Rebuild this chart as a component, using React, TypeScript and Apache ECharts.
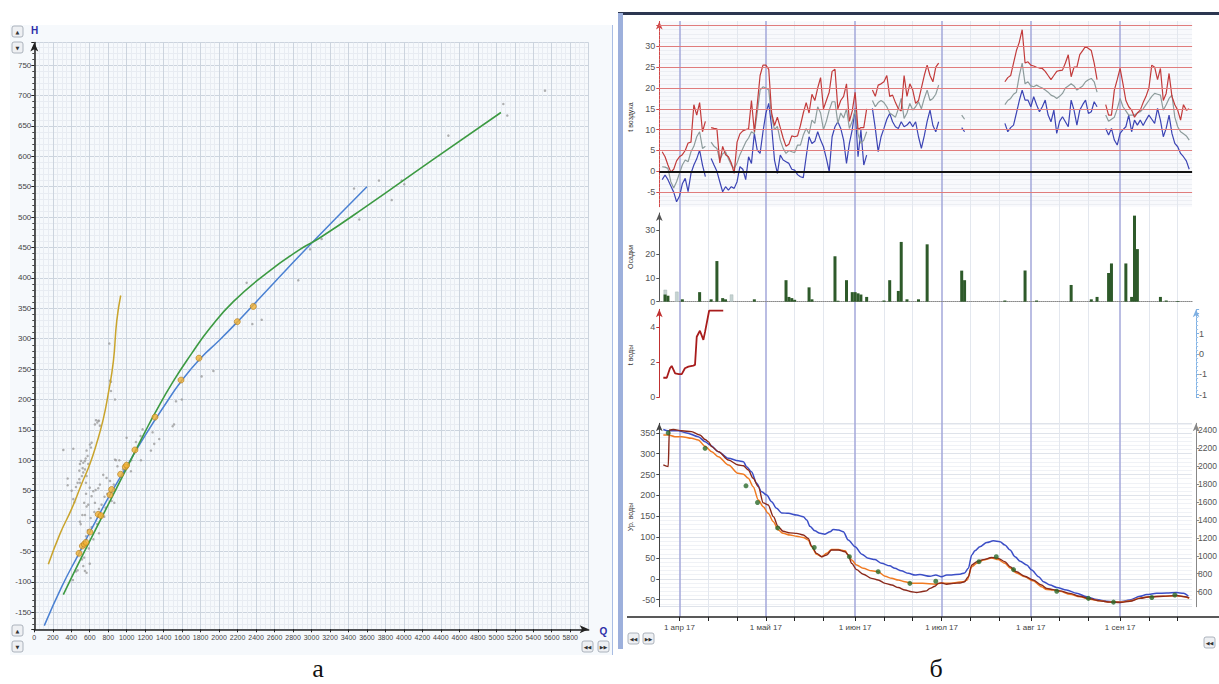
import React, { useEffect, useRef } from "react";
import * as echarts from "echarts";

/* ================= Panel «а»: H(Q) ================= */
// gray: all observations [Q, H]
const hqObserved: [number, number][] = [
  [314, 117], [422, 119], [361, 70], [361, 59], [404, 50], [422, 36], [433, 31], [451, 56], [469, 63],
  [487, 83], [494, 94], [505, 99], [523, 87], [530, 96], [548, 99], [556, 103], [566, 116], [577, 107],
  [584, 94], [602, 126], [613, 121], [620, 129], [656, 159], [682, 162], [700, 165], [710, 157], [516, 74],
  [487, 69], [494, 63], [530, 80], [548, 85], [566, 74], [559, 63], [494, -1], [502, -5], [516, -63],
  [530, -74], [548, -82], [566, -85], [451, -83], [469, -81], [418, -97], [548, 10], [566, 24], [584, 27],
  [620, 41], [638, 49], [663, 51], [692, 54], [656, 30], [710, 60], [746, 76], [782, 71], [819, 66],
  [728, 27], [757, 7], [771, 22], [837, 33], [866, 30], [873, 101], [884, 100], [999, 137], [1046, 82],
  [1154, 100], [1172, 151], [1262, 116], [1280, 146], [1298, 127], [1352, 135], [1497, 156], [1533, 197],
  [812, 292], [820, 231], [830, 229], [830, 214], [873, 200], [668, 166], [693, 165], [1512, 159],
  [1596, 200], [1811, 238], [1938, 247], [2298, 392], [2461, 331], [2360, 324], [2857, 396], [2984, 447],
  [3110, 464], [3460, 547], [3517, 496], [3730, 560], [3868, 528], [3976, 560], [4004, 554], [4481, 634],
  [5076, 686], [5119, 667], [5527, 708], [560, -25], [590, -45], [620, -10], [640, -30], [540, -60],
  [600, -70], [650, 15], [680, -5], [700, 20], [760, 40], [790, 45], [860, 60], [900, 90], [920, 100],
  [960, 85], [1050, 100], [1100, 130], [1150, 140], [700, -20], [610, 5], [580, -15], [520, 10], [540, 30],
  [560, 45], [600, 55]
];
// orange: selected points
const hqSelected: [number, number][] = [
  [484, -53], [520, -41], [541, -38], [559, -35], [602, -18], [692, 11], [721, 9], [819, 43], [837, 52],
  [934, 77], [985, 89], [999, 92], [1089, 117], [1306, 171], [1588, 232], [1782, 268], [2197, 328], [2370, 353]
];
const curveEarly: [number, number][] = [
  [152, -71], [278, -21], [404, 20], [512, 61], [602, 94], [675, 128], [747, 168], [801, 210], [856, 263],
  [892, 329], [935, 371]
];
const curveLinear: [number, number][] = [
  [108, -172], [300, -107], [484, -53], [602, -18], [800, 38], [1000, 90], [1200, 141], [1400, 188],
  [1600, 232], [1800, 268], [2000, 297], [2200, 328], [2600, 393], [3000, 457], [3600, 550]
];
const curvePower: [number, number][] = [
  [314, -121], [500, -63], [700, -3], [900, 57], [1100, 117], [1200, 147], [1300, 176], [1500, 229],
  [1700, 275], [1900, 317], [2154, 361], [2515, 408], [2876, 447], [3092, 466], [3597, 518], [4318, 595],
  [5050, 672]
];

/* ================= Panel «б»: season 2017 ================= */
const SEASON_START = "2017-03-25";
const SEASON_END = "2017-09-26";
const MONTHS_RU = ["янв", "фев", "мар", "апр", "май", "июн", "июл", "авг", "сен", "окт", "ноя", "дек"];

// air temperature, daily, segments [first date, values]
const airMax: [string, number[]][] = [
  ["2017-03-26", [4.7, 3.5, 1.5, -0.2, 0.5, 2.5, 3.5, 4, 5, 6.8, 7, 16, 13.5, 16.5, 9.5, 12]],
  ["2017-04-12", [10.5, 10.3, 10.2, 2, 6, 4, 3.5, 2, -0.5, 7, 9, 9.7, 10, 10.2, 17, 9.5, 16, 23, 25.5, 25.5,
    24.5, 14, 11, 13, 10.5, 8, 6, 6.5, 8.5, 8.3, 8.5, 11, 14, 16.5, 14, 18.5, 17, 20, 22.5, 15,
    17, 19, 24, 24.5, 15, 17, 18, 21, 12, 14.5, 19, 10, 10.5, 10.5, 15]],
  ["2017-06-07", [19.5, 18, 20.7, 21, 21.5, 23, 18, 18.3, 16.5, 15, 14.5, 23, 18, 21, 19.5, 16.3, 17, 20, 23, 25.5,
    23, 21.5, 25, 26]],
  ["2017-07-23", [21.5, 22.5, 23, 26, 29, 31, 34, 26, 26.3, 25.5, 25.3, 25, 24.8, 24.7, 24, 23, 22, 23, 24, 24.2,
    24.3, 26, 28, 22.7, 25, 25, 28, 29, 30, 29.5, 29, 26, 22]],
  ["2017-08-27", [16, 13.5, 13.5, 19.5, 22, 24.7, 21, 17, 15.5, 14.7, 13, 14, 14.7, 16.5, 18, 20, 25.5, 25, 22, 24.7,
    17, 18.7, 23.5, 18, 16, 14.7, 12.3, 16, 14.7, 15]]
];
const airMean: [string, number[]][] = [
  ["2017-03-26", [1.1, 1, 0.7, -2.5, -4, -2.5, -0.5, 1.5, 2.7, 2.3, 4.7, 6, 8.3, 9.5, 5.5, 6]],
  ["2017-04-12", [7, 6, 5.5, 2.7, 4.2, 4.7, 3, 1.5, 0.7, 2, 4, 5.5, 7, 8, 9.5, 9, 14, 19.5, 20.3, 20,
    19.5, 13, 10, 10.8, 7.5, 5.5, 4.3, 5, 4.7, 4.5, 6.3, 6.3, 8.7, 10.3, 9, 12.3, 11.5, 15.5, 14, 10,
    12, 14.7, 16.7, 16.7, 11.5, 14, 12.8, 15, 10.3, 12, 14.7, 9, 6.7, 7.5, 9.5]],
  ["2017-06-07", [17, 15.5, 16.5, 17, 16.5, 15.5, 14, 13.5, 13, 15, 17.5, 12.7, 14, 16.3, 14.7, 15.5, 16.7, 15, 17.5, 19.5,
    17, 17.5, 18.5, 20.7]],
  ["2017-07-08", [13.5, 12.5]],
  ["2017-07-23", [16, 17, 17.5, 18.5, 19, 23, 26, 21, 21.5, 20.5, 20.3, 20.7, 20.3, 20, 19.5, 19, 18.3, 18, 17.5, 18,
    18.7, 20, 20.5, 21, 20.5, 19.5, 20, 20.5, 21.5, 22, 22.3, 21.5, 19]],
  ["2017-08-27", [13.5, 12, 12.5, 13, 15, 17.5, 15.5, 14.5, 13.5, 13.5, 13.5, 14, 14.3, 15, 16, 17, 18, 18.7, 18.5, 18.3,
    14.7, 16, 17.5, 18.3, 13, 10.7, 9.5, 9, 8.5, 7.5]]
];
const airMin: [string, number[]][] = [
  ["2017-03-26", [-2, -0.9, -2, -3.5, -5, -7.3, -6, -3, -1.7, -4.9, -0.5, 1.5, 3, 5.1, 1.5, -1.3]],
  ["2017-04-12", [3.1, 1.5, 0, -2.5, -4.9, -3.7, -4.5, -3.7, -4.1, -2.5, 1.1, 0.5, -2, 3.5, 1.9, 9.1, 5.1, 4.3, 9.5, 13.9,
    16.3, 10.7, 2.7, -0.5, 3.9, 2.7, 2.3, 1.9, 0.5, 0.3, -0.8, -1.3, -1.5, 3.5, 8.3, 6.7, 7.2, 9.5, 7.5, 5.9,
    3.1, -0.1, 8.3, 10.7, 11.9, 10.3, 7.5, 1.9, 6.7, 10, 15.1, 3.5, 9.9, 1.5, 3.9]],
  ["2017-06-07", [15.1, 10.3, 4.7, 8.3, 10.3, 12.5, 13.9, 11.9, 10.7, 10.3, 11.9, 10.7, 11.1, 11.9, 10.7, 11.9, 8.3, 5.5, 8.5, 12,
    14.7, 11, 9.5, 11.9]],
  ["2017-07-08", [10.5, 9.5]],
  ["2017-07-23", [11.5, 9.5, 10.5, 11.1, 14, 17, 19.5, 17.1, 17.1, 15.5, 17.9, 16, 14.3, 15.5, 17.1, 13.5, 11.9, 14.7, 9.1, 12,
    13.1, 11.9, 10.7, 17.1, 14.7, 11.1, 14.7, 16, 17.1, 13.9, 14.3, 16.7, 15.5]],
  ["2017-08-27", [10.3, 8.7, 10.3, 7.5, 6.3, 9.1, 10, 10.7, 13.5, 9.5, 12.3, 11.1, 12.3, 11, 12.3, 13.5, 12.5, 11.5, 15.1, 12.3,
    8.3, 10.3, 13.5, 9.1, 6.7, 5.9, 4.3, 3.5, 2.5, 0.5]]
];

// precipitation, mm
const precipRain: [string, number][] = [
  ["2017-03-27", 3], ["2017-03-28", 2.5], ["2017-04-02", 1], ["2017-04-08", 4], ["2017-04-12", 1],
  ["2017-04-14", 17], ["2017-04-16", 1.5], ["2017-04-17", 1], ["2017-04-27", 1], ["2017-05-08", 9],
  ["2017-05-09", 2], ["2017-05-10", 1.5], ["2017-05-11", 0.8], ["2017-05-16", 6], ["2017-05-17", 1],
  ["2017-05-25", 19], ["2017-05-26", 0.4], ["2017-05-29", 9], ["2017-05-31", 4], ["2017-06-01", 4],
  ["2017-06-02", 3.5], ["2017-06-03", 3], ["2017-06-05", 2], ["2017-06-11", 0.5], ["2017-06-13", 9],
  ["2017-06-16", 4.5], ["2017-06-17", 25], ["2017-06-19", 1], ["2017-06-23", 1], ["2017-06-26", 24],
  ["2017-07-08", 13], ["2017-07-09", 9], ["2017-07-23", 0.5], ["2017-07-30", 13], ["2017-08-03", 0.5],
  ["2017-08-15", 7], ["2017-08-22", 1], ["2017-08-24", 2], ["2017-08-28", 12], ["2017-08-29", 16],
  ["2017-09-03", 16], ["2017-09-05", 2], ["2017-09-06", 36], ["2017-09-07", 22], ["2017-09-15", 2],
  ["2017-09-17", 0.5], ["2017-09-21", 0.3]
];
const precipSnow: [string, number][] = [["2017-03-27", 5], ["2017-03-31", 4.2], ["2017-04-19", 3]];

// water temperature [day since 25 Mar, °C]
const waterTemp: [number, number][] = [
  [1.4, 1.11], [2.6, 1.11], [3.7, 1.65], [4.3, 1.78], [5.5, 1.36], [6.8, 1.32], [7.8, 1.32], [8.9, 1.65],
  [10.1, 1.74], [11.8, 1.8], [12.4, 1.84], [13, 3.44], [14.1, 3.78], [15.3, 3.26], [15.9, 3.73], [17.3, 4.92], [22.2, 4.92]
];

// water level [day since 25 Mar, cm]
const levelBlue: [number, number][] = [
  [1.4, 358], [3, 355], [6.6, 355], [9.5, 350], [13.5, 341], [15.9, 329], [17.6, 321], [20.5, 305], [24, 289],
  [27.4, 283], [29.2, 281], [30.3, 269], [32, 257], [33.8, 229], [35.5, 209], [37.3, 201], [39, 185], [40.7, 169],
  [42.5, 158], [44.8, 157], [47.7, 153], [50, 149], [51.2, 141], [52.3, 126], [54, 115], [55.8, 109], [57.5, 107],
  [59.3, 113], [60.4, 118], [62.2, 117], [63.9, 113], [65.6, 93], [68, 77], [70.3, 59], [72.6, 49], [74.9, 46],
  [77.2, 37], [80, 31], [81.8, 25], [84, 19], [86.5, 13], [88.8, 9], [90.5, 10], [94, 6], [96, 9], [98, 5],
  [99.8, 9], [101.5, 9], [104.4, 11], [106, 14], [107.3, 25], [108.5, 57], [109.6, 67], [111.3, 77], [113.7, 87],
  [116, 91], [118.3, 89], [120, 81], [121.8, 69], [123.5, 53], [125.3, 42], [127.6, 33], [129.3, 21], [131.7, 5],
  [133.4, -7], [135.7, -15], [138, -21], [141.4, -27], [144.9, -35], [148.4, -43], [151.9, -50], [155.3, -54],
  [157.6, -55], [160, -55], [163.4, -51], [166.9, -42], [169.2, -38], [172.7, -35], [176.2, -34], [179.6, -33],
  [182, -35], [183.7, -42]
];
const levelBrown: [number, number][] = [
  [1.4, 273], [3.1, 269], [3.5, 357], [4.9, 358], [7.8, 355], [11.2, 353], [14.1, 345], [15.9, 334], [17, 329],
  [18.2, 317], [20.5, 305], [24, 285], [27.4, 273], [29.2, 271], [30.9, 261], [32.6, 241], [34.4, 221], [36.1, 182],
  [37.8, 177], [39.6, 149], [41.3, 125], [43, 114], [45.4, 110], [47.7, 109], [50, 105], [51.7, 97], [52.9, 78],
  [54.6, 61], [56.4, 53], [58.1, 57], [59.8, 69], [62.2, 69], [64.5, 65], [65.6, 57], [66.8, 37], [68.5, 22],
  [70.8, 11], [73.7, 1], [76, -3], [78.4, -11], [80.7, -15], [83, -21], [85.3, -27], [87.6, -31], [89.4, -33],
  [91, -31], [92.8, -29], [94, -23], [95.7, -18], [96.9, -11], [98, -10], [99.8, -13], [102.1, -11], [104.4, -10],
  [106, -7], [107.3, 5], [108.5, 33], [110.3, 41], [112.5, 46], [115.4, 51], [117.7, 49], [120, 41], [121.8, 29],
  [124, 17], [126.9, 6], [129.8, -3], [132.7, -15], [134.5, -23], [136.8, -26], [139.1, -29], [142.6, -35],
  [146, -42], [149.5, -48], [153, -53], [156.5, -56], [160, -57], [163.4, -54], [166.9, -47], [170.4, -43],
  [175, -42], [179.6, -40], [182.5, -43], [184, -46]
];
const levelOrange: [number, number][] = [
  [1.4, 345], [3.1, 345], [5.4, 341], [7.8, 341], [11.2, 337], [13.5, 333], [15.9, 318], [18.2, 305], [20.5, 293],
  [24, 273], [27.4, 253], [29.2, 251], [30.9, 241], [32.6, 221], [34.4, 189], [36.1, 173], [37.8, 157], [39.6, 137],
  [41.3, 117], [43, 109], [45.4, 105], [47.7, 102], [50, 99], [51.7, 93], [52.9, 77], [54.6, 59], [56.4, 53],
  [58.1, 61], [59.8, 70], [62.2, 70], [64.5, 67], [65.6, 57], [66.8, 45], [68.5, 33], [70.8, 25], [73.7, 19],
  [76, 17], [78.4, 6], [80.7, 1], [83, -3], [85.3, -7], [87.6, -11], [91.4, -11], [96, -13], [98, -10],
  [100.9, -11], [103.2, -9], [105.5, -7], [106.9, -3], [108.5, 29], [110.3, 37], [112.5, 45], [115.4, 50],
  [117.7, 46], [120, 37], [121.8, 26], [124, 14], [126.9, 5], [129.8, -5], [132.7, -19], [134.5, -26],
  [136.8, -27], [139.1, -30], [142.6, -37], [146, -43], [149.5, -49], [153, -53], [156.5, -56], [160, -56],
  [163.4, -53], [166.9, -46], [170.4, -43], [175, -42], [179.6, -41], [182.5, -43], [184, -47]
];
const levelObserved: [number, number][] = [
  [3.1, 350], [15.9, 313], [30.1, 223], [34.1, 183], [41.1, 122], [53.8, 75], [66, 53], [76, 17], [87, -11],
  [96, -6], [111, 41], [117, 53], [123, 22], [138, -30], [149, -47], [157.7, -56], [171, -45], [179, -39]
];

/* ================= helpers ================= */
const DAY = 86400000;
const parseUTC = (s: string) => {
  const [y, m, d] = s.split("-").map(Number);
  return Date.UTC(y, m - 1, d);
};
const T0 = parseUTC(SEASON_START);
const dayOf = (s: string) => Math.round((parseUTC(s) - T0) / DAY);
const NDAYS = dayOf(SEASON_END);
const seasonDates = Array.from({ length: NDAYS + 1 }, (_, i) => new Date(T0 + i * DAY).toISOString().slice(0, 10));
const dailyLine = (segs: [string, number[]][]) => {
  const out: (number | null)[] = new Array(NDAYS + 1).fill(null);
  segs.forEach(([s, vals]) => {
    const s0 = dayOf(s);
    vals.forEach((v, i) => (out[s0 + i] = v));
  });
  return out.map((v, i) => [i, v]);
};
const dayPairs = (list: [string, number][]) => list.map(([s, v]) => [dayOf(s), v]);
const dom = (v: string) => Number(v.slice(8, 10));
const plain = (v: number) => String(Math.round(v * 100) / 100);

/* ================= layout ================= */
const RX = 659.3;
const RW = 532.8;
const FONT = "Liberation Sans";

const hiddenX = (gridIndex: number) => ({
  type: "value", gridIndex, min: 0, max: NDAYS, show: false
});

function btn(x: number, y: number, glyph: string) {
  return {
    type: "group", x, y, z: 50,
    children: [
      { type: "rect", shape: { x: 0, y: 0, width: 11, height: 11, r: 2 }, style: { fill: "#eef0f3", stroke: "#9aa2ad", lineWidth: 0.8 } },
      { type: "text", style: { text: glyph, x: 5.5, y: 6, align: "center", verticalAlign: "middle", fontSize: 5, fill: "#333", fontFamily: "DejaVu Sans" } }
    ]
  };
}
function vtext(x: number, y: number, text: string) {
  return {
    type: "text", x, y, rotation: Math.PI / 2, z: 50,
    style: { text, align: "center", verticalAlign: "middle", fontSize: 7, fill: "#333", fontFamily: FONT }
  };
}

export default function App() {
  const ref = useRef<HTMLDivElement>(null);
  useEffect(() => {
    if (!ref.current) return;
    const chart = echarts.init(ref.current, undefined, { renderer: "svg" });
    const gridBase = { containLabel: false, outerBoundsMode: "none" };
    const axLabel = { fontSize: 9, color: "#555", fontFamily: FONT, margin: 4, formatter: plain };

    const redLines = [-5, 5, 10, 15, 20, 25, 30, 35].map((v) => ({ yAxis: v }));

    const option: any = {
      animation: false,
      backgroundColor: "#ffffff",
      textStyle: { fontFamily: FONT },
      grid: [
        { ...gridBase, left: 34.3, top: 42.6, width: 554.4, height: 586.7 },
        { ...gridBase, left: RX, top: 21.4, width: RW, height: 185.3, show: true, backgroundColor: "#f8f9fc", borderWidth: 0 },
        { ...gridBase, left: RX, top: 213, width: RW, height: 88.7 },
        { ...gridBase, left: RX, top: 309.3, width: RW, height: 88 },
        { ...gridBase, left: RX, top: 423.3, width: RW, height: 183.4 },
        { ...gridBase, left: RX, top: 21, width: RW, height: 596 }
      ],
      xAxis: [
        {
          type: "value", gridIndex: 0, min: 0, max: 6000, interval: 200,
          axisLine: { onZero: false, lineStyle: { color: "#222", width: 1.5 }, symbol: ["none", "arrow"], symbolSize: [6, 9] },
          axisTick: { show: true, length: 3, lineStyle: { color: "#222" } },
          axisLabel: { fontSize: 7, color: "#444", margin: 5, showMaxLabel: false, fontFamily: FONT, formatter: plain },
          splitLine: { show: true, lineStyle: { color: "#ccd4de", width: 1 } },
          minorTick: { show: false, splitNumber: 4 },
          minorSplitLine: { show: true, lineStyle: { color: "#e8ecf2", width: 1 } }
        },
        hiddenX(1),
        {
          type: "value", gridIndex: 2, min: 0, max: NDAYS,
          axisLine: { show: true, onZero: false, lineStyle: { color: "#8a8a8a", type: "dotted", width: 1 } },
          axisTick: { show: false }, axisLabel: { show: false }, splitLine: { show: false }
        },
        hiddenX(3),
        hiddenX(4),
        {
          type: "category", gridIndex: 5, data: seasonDates, boundaryGap: false, position: "bottom",
          axisLine: { show: false },
          axisTick: { show: true, length: 4, interval: (i: number, v: string) => [1, 11, 21].includes(dom(v)), lineStyle: { color: "#222" } },
          axisLabel: {
            interval: (i: number, v: string) => dom(v) === 1, fontSize: 8, color: "#444", margin: 6, fontFamily: FONT,
            formatter: (v: string) => `${dom(v)} ${MONTHS_RU[Number(v.slice(5, 7)) - 1]} ${v.slice(2, 4)}`
          },
          splitLine: { show: true, interval: (i: number, v: string) => dom(v) === 1, lineStyle: { color: "#a3a7da", width: 1.5 } }
        },
        {
          type: "category", gridIndex: 5, data: seasonDates, boundaryGap: false, position: "top",
          axisLine: { show: false }, axisTick: { show: false }, axisLabel: { show: false },
          splitLine: { show: true, interval: (i: number, v: string) => dom(v) === 11 || dom(v) === 21, lineStyle: { color: "#e3e7ee", width: 1 } }
        }
      ],
      yAxis: [
        {
          type: "value", gridIndex: 0, min: -178, max: 787, splitNumber: 19,
          axisLine: { onZero: false, lineStyle: { color: "#222", width: 1.5 }, symbol: ["none", "arrow"], symbolSize: [6, 9] },
          axisTick: { show: true, length: 3, lineStyle: { color: "#222" } },
          minorTick: { show: true, splitNumber: 5, length: 2, lineStyle: { color: "#444" } },
          axisLabel: { fontSize: 8, color: "#444", margin: 3, showMinLabel: false, showMaxLabel: false, fontFamily: FONT, formatter: plain },
          splitLine: { show: true, lineStyle: { color: "#ccd4de", width: 1 } },
          minorSplitLine: { show: true, lineStyle: { color: "#e8ecf2", width: 1 } }
        },
        {
          type: "value", gridIndex: 1, min: -8.5, max: 36, splitNumber: 9,
          axisLine: { onZero: false, lineStyle: { color: "#d04848", width: 1, type: [3, 1] }, symbol: ["none", "arrow"], symbolSize: [5, 8] },
          axisTick: { show: true, length: 3, lineStyle: { color: "#d04848" } },
          axisLabel: { ...axLabel, showMinLabel: false, showMaxLabel: false, formatter: (v: number) => (v > 32 ? "" : plain(v)) },
          splitLine: { show: false },
          minorSplitLine: { show: true, lineStyle: { color: "#eceef3" } }
        },
        {
          type: "value", gridIndex: 2, min: 0, max: 37.1, splitNumber: 4,
          axisLine: { onZero: false, lineStyle: { color: "#555", width: 1 }, symbol: ["none", "arrow"], symbolSize: [5, 8] },
          axisTick: { show: true, length: 3, lineStyle: { color: "#555" } },
          axisLabel: { ...axLabel, showMaxLabel: false },
          splitLine: { show: false }
        },
        {
          type: "value", gridIndex: 3, min: 0, max: 5, splitNumber: 3,
          axisLine: { onZero: false, lineStyle: { color: "#c03030", width: 1 }, symbol: ["none", "arrow"], symbolSize: [5, 8] },
          axisTick: { show: true, length: 3, lineStyle: { color: "#c03030" } },
          axisLabel: { ...axLabel, showMaxLabel: false },
          splitLine: { show: false }
        },
        {
          type: "value", gridIndex: 3, position: "right", offset: 4, min: -1.066, max: 1.1, splitNumber: 4,
          axisLine: { show: true, onZero: false, lineStyle: { color: "#7fb0e2", width: 1, type: [3, 1] }, symbol: ["none", "arrow"], symbolSize: [5, 8] },
          axisTick: { show: true, length: 3, lineStyle: { color: "#7fb0e2" } },
          minorTick: { show: true, splitNumber: 5, length: 2, lineStyle: { color: "#9cc4ec" } },
          axisLabel: {
            ...axLabel, showMinLabel: false, showMaxLabel: false, margin: 3,
            formatter: (v: number) => {
              if (Math.abs(v - 0.5) < 1e-6) return "1";
              if (Math.abs(v) < 1e-6) return "0";
              if (Math.abs(v + 0.5) < 1e-6 || Math.abs(v + 1) < 1e-6) return "-1";
              return "";
            }
          },
          splitLine: { show: false }
        },
        {
          type: "value", gridIndex: 4, min: -67, max: 373, splitNumber: 9,
          axisLine: { onZero: false, lineStyle: { color: "#444", width: 1 }, symbol: ["none", "arrow"], symbolSize: [5, 8] },
          axisTick: { show: true, length: 3, lineStyle: { color: "#444" } },
          axisLabel: { ...axLabel, showMinLabel: false, showMaxLabel: false },
          splitLine: { show: true, lineStyle: { color: "#dfe3ea" } },
          minorSplitLine: { show: true, lineStyle: { color: "#f0f2f6" } }
        },
        {
          type: "value", gridIndex: 4, position: "right", offset: 4, min: 433, max: 2474, splitNumber: 10,
          axisLine: { show: true, onZero: false, lineStyle: { color: "#888", width: 1 }, symbol: ["none", "arrow"], symbolSize: [5, 8] },
          axisTick: { show: true, length: 3, lineStyle: { color: "#888" } },
          axisLabel: { ...axLabel, showMinLabel: false, showMaxLabel: false, margin: 2, fontSize: 8.5 },
          splitLine: { show: false }
        },
        { type: "value", gridIndex: 5, show: false, min: 0, max: 1 }
      ],
      series: [
        /* panel а */
        { type: "scatter", xAxisIndex: 0, yAxisIndex: 0, data: hqObserved, symbolSize: 2.5, itemStyle: { color: "#9c9c9c" }, z: 3 },
        { type: "line", xAxisIndex: 0, yAxisIndex: 0, data: curveEarly, smooth: true, showSymbol: false, lineStyle: { color: "#c9a42c", width: 1.5 }, z: 4 },
        { type: "line", xAxisIndex: 0, yAxisIndex: 0, data: curveLinear, smooth: true, showSymbol: false, lineStyle: { color: "#4a80d2", width: 1.5 }, z: 4 },
        { type: "line", xAxisIndex: 0, yAxisIndex: 0, data: curvePower, smooth: true, showSymbol: false, lineStyle: { color: "#3c9a42", width: 1.6 }, z: 4 },
        { type: "scatter", xAxisIndex: 0, yAxisIndex: 0, data: hqSelected, symbolSize: 6, itemStyle: { color: "#f2b233", borderColor: "#b07a1c", borderWidth: 0.8 }, z: 6 },
        /* air temperature */
        {
          type: "line", xAxisIndex: 1, yAxisIndex: 1, data: [], z: 1, silent: true,
          markLine: {
            silent: true, symbol: "none", label: { show: false }, animation: false,
            data: [
              ...redLines.map((d) => ({ ...d, lineStyle: { color: "#e07c7c", width: 1, type: "solid" } })),
              { yAxis: 0, lineStyle: { color: "#111", width: 2, type: "solid" } }
            ]
          }
        },
        { type: "line", xAxisIndex: 1, yAxisIndex: 1, data: dailyLine(airMin), showSymbol: false, lineStyle: { color: "#3c44b4", width: 1.2 }, z: 3 },
        { type: "line", xAxisIndex: 1, yAxisIndex: 1, data: dailyLine(airMean), showSymbol: false, lineStyle: { color: "#8d9c9c", width: 1.2 }, z: 3 },
        { type: "line", xAxisIndex: 1, yAxisIndex: 1, data: dailyLine(airMax), showSymbol: false, lineStyle: { color: "#c23b3b", width: 1.2 }, z: 3 },
        /* precipitation */
        { type: "bar", xAxisIndex: 2, yAxisIndex: 2, data: dayPairs(precipSnow), barWidth: 3.5, itemStyle: { color: "#c5d3d2", borderColor: "#a9b9b8", borderWidth: 0.5 }, z: 3 },
        { type: "bar", xAxisIndex: 2, yAxisIndex: 2, data: dayPairs(precipRain), barWidth: 3, barGap: "-100%", itemStyle: { color: "#2e5a2a" }, z: 4 },
        /* water temperature */
        { type: "line", xAxisIndex: 3, yAxisIndex: 3, data: waterTemp, showSymbol: false, lineStyle: { color: "#a81c1c", width: 1.8 }, z: 3 },
        /* water level */
        { type: "line", xAxisIndex: 4, yAxisIndex: 5, data: levelBlue, smooth: 0.3, smoothMonotone: "x", showSymbol: false, lineStyle: { color: "#3b4ec6", width: 1.5 }, z: 3 },
        { type: "line", xAxisIndex: 4, yAxisIndex: 5, data: levelOrange, smooth: 0.3, smoothMonotone: "x", showSymbol: false, lineStyle: { color: "#f07a22", width: 1.5 }, z: 3 },
        { type: "line", xAxisIndex: 4, yAxisIndex: 5, data: levelBrown, smooth: 0.3, smoothMonotone: "x", showSymbol: false, lineStyle: { color: "#8a2a1c", width: 1.4 }, z: 3 },
        { type: "scatter", xAxisIndex: 4, yAxisIndex: 5, data: levelObserved, symbolSize: 5, itemStyle: { color: "#2c6a2c" }, z: 5 }
      ],
      graphic: [
        { type: "rect", z: -10, silent: true, shape: { x: 10, y: 25, width: 602, height: 630 }, style: { fill: "#f6f9fc" } },
        { type: "line", z: 20, shape: { x1: 612.5, y1: 25, x2: 612.5, y2: 655 }, style: { stroke: "#a9bde3", lineWidth: 1 } },
        { type: "rect", z: 20, shape: { x: 618, y: 12, width: 601, height: 3 }, style: { fill: "#2c3650" } },
        { type: "rect", z: 20, shape: { x: 618, y: 13, width: 5, height: 636 }, style: { fill: "#9db0dc" } },
        { type: "line", z: 20, shape: { x1: 627, y1: 617, x2: 1219, y2: 617 }, style: { stroke: "#222", lineWidth: 1.3 } },
        { type: "text", z: 50, style: { text: "H", x: 34.5, y: 30, align: "center", verticalAlign: "middle", fontSize: 10, fontWeight: "bold", fill: "#2d2da8", fontFamily: FONT } },
        { type: "text", z: 50, style: { text: "Q", x: 603.5, y: 631, align: "center", verticalAlign: "middle", fontSize: 10, fontWeight: "bold", fill: "#2d2da8", fontFamily: FONT } },
        btn(12, 26, "▲"), btn(12, 42, "▼"), btn(12, 625, "▲"), btn(12, 641, "▼"),
        btn(582, 641, "◀◀"), btn(598, 641, "▶▶"), btn(628, 633, "◀◀"), btn(643, 633, "▶▶"), btn(1204, 637, "◀◀"),
        vtext(630, 117, "t воздуха"), vtext(630, 257, "Осадки"), vtext(630, 355, "t воды"), vtext(630, 517, "Ур. воды"),
        { type: "text", z: 50, style: { text: "а", x: 318, y: 668, align: "center", verticalAlign: "middle", fontSize: 26, fill: "#111", fontFamily: "Liberation Serif" } },
        { type: "text", z: 50, style: { text: "б", x: 936, y: 668, align: "center", verticalAlign: "middle", fontSize: 26, fill: "#111", fontFamily: "Liberation Serif" } }
      ]
    };
    chart.setOption(option);
    return () => chart.dispose();
  }, []);
  return <div ref={ref} style={{ position: "fixed", left: 0, top: 0, width: 1219, height: 684 }} />;
}
